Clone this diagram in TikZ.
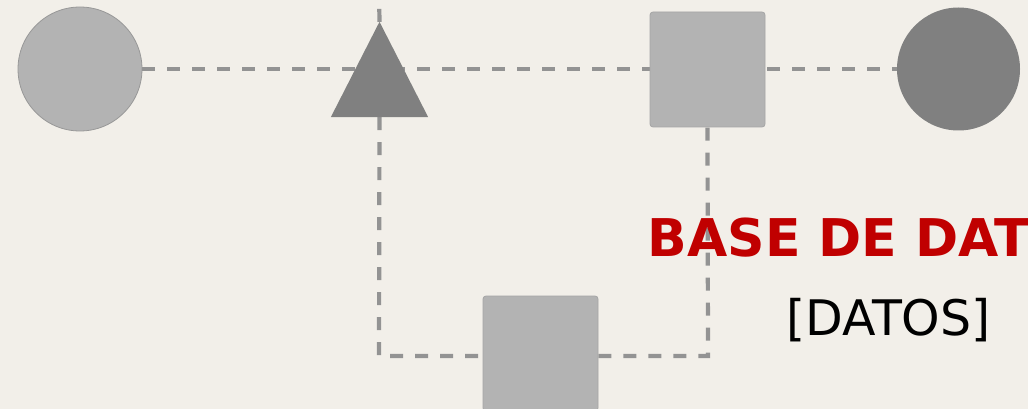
\documentclass[tikz,border=0pt]{standalone}
\usepackage{fontspec}
\setmainfont{DejaVu Sans}
\definecolor{bgc}{HTML}{F2EFE9}
\definecolor{lightg}{HTML}{B3B3B3}
\definecolor{darkg}{HTML}{808080}
\definecolor{edgeg}{HTML}{939393}
\definecolor{titlered}{HTML}{C00000}
\pgfdeclarelayer{bglayer}
\pgfdeclarelayer{edgelayer}
\pgfsetlayers{bglayer,edgelayer,main}
\begin{document}
\begin{tikzpicture}[x=1pt,y=-1pt,
  lightcircle/.style={circle,fill=lightg,draw=lightg!85!black,line width=0.8pt,minimum size=124pt,inner sep=0pt},
  darkcircle/.style={circle,fill=darkg,draw=none,minimum size=123pt,inner sep=0pt},
  sqbox/.style={rectangle,rounded corners=3pt,fill=lightg,draw=lightg!92!black,line width=0.8pt,minimum size=115pt,inner sep=0pt},
  triholder/.style={rectangle,draw=none,minimum width=97pt,minimum height=95pt,inner sep=0pt},
  conn/.style={draw=edgeg,line width=4.2pt,dash pattern=on 13pt off 12pt},
  titletext/.style={text=titlered,font=\fontsize{52}{60}\selectfont\bfseries,inner sep=0pt,anchor=base west},
  subtext/.style={text=black,font=\fontsize{49}{60}\selectfont,inner sep=0pt,anchor=base}]
\begin{pgfonlayer}{bglayer}
\fill[bgc] (0,0) rectangle (1028,409);
\end{pgfonlayer}
\useasboundingbox (0,0) rectangle (1028,409);
\clip (0,0) rectangle (1028,409);
% nodes
\node[lightcircle] (c1) at (80,69) {};
\node[triholder] (t) at (379.5,69.5) {};
\fill[darkg] (t.north) -- (t.south east) -- (t.south west) -- cycle;
\node[sqbox] (s1) at (707.5,69.5) {};
\node[darkcircle] (c2) at (958.5,69) {};
\node[sqbox] (b) at (540.5,353.5) {};
\coordinate (top) at (379,-10);
\coordinate (j1) at (379,356);
\coordinate (j2) at (708,356);
% connectors
\begin{pgfonlayer}{edgelayer}
\draw[conn] (c1.east) -- (c2.west);
\draw[conn] (t.north) -- (top);
\draw[conn] (t.south) -- (j1) -- (b.west |- j1);
\draw[conn] (b.east |- j2) -- (j2) -- (s1.south);
\end{pgfonlayer}
% labels
\node[titletext] (title) at (647.5,256) {BASE DE DATOS};
\node[subtext] (sub) at (888.5,335) {[DATOS]};
\end{tikzpicture}
\end{document}
